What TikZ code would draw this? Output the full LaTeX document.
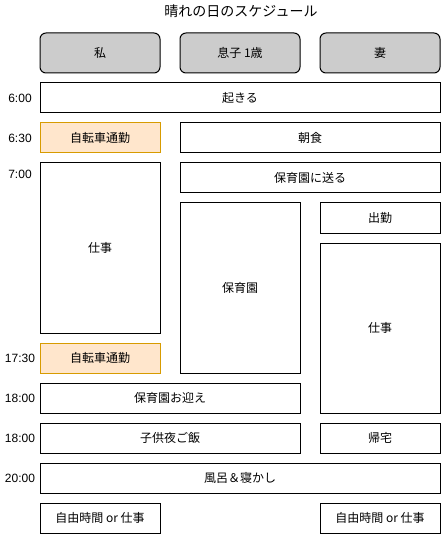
\documentclass[tikz,border=0pt]{standalone}
\usepackage{fontspec}
\setmainfont{Noto Sans CJK JP}
\newfontfamily\latfont{Liberation Sans}
\definecolor{hdrgray}{HTML}{CCCCCC}
\definecolor{orfill}{HTML}{FFE6CC}
\definecolor{orline}{HTML}{D79B00}
\tikzset{
  box/.style={draw=black, line width=1pt, fill=white, inner sep=0pt, font=\fontsize{12}{14}\selectfont},
  hdr/.style={box, fill=hdrgray, rounded corners=6pt, minimum width=120pt, minimum height=40pt},
  bike/.style={box, draw=orline, fill=orfill},
  timelbl/.style={font=\latfont\fontsize{12}{14}\selectfont, inner sep=0pt},
  sz/.style 2 args={minimum width=#1pt, minimum height=#2pt}
}
\begin{document}
\begin{tikzpicture}[x=1pt,y=-1pt]
\useasboundingbox (0,0) rectangle (441,534);
\node[font=\fontsize{14}{16}\selectfont, inner sep=0pt] (title) at (241,11) {晴れの日のスケジュール};
% headers
\node[hdr] (me) at (100,53) {私};
\node[hdr] (son) at (240,53) {息子 1歳};
\node[hdr] (wife) at (380,53) {妻};
% schedule
\node[box, sz={400}{30}] (wake) at (240,98) {起きる};
\node[bike, sz={120}{30}] (bike1) at (100,138) {自転車通勤};
\node[box, sz={260}{30}] (breakfast) at (310,138) {朝食};
\node[box, sz={120}{170}] (work1) at (100,248) {仕事};
\node[box, sz={260}{30}] (drop) at (310,178) {保育園に送る};
\node[box, sz={120}{170}] (nursery) at (240,288) {保育園};
\node[box, sz={120}{30}] (commute) at (380,218) {出勤};
\node[box, sz={120}{170}] (work2) at (380,328) {仕事};
\node[bike, sz={120}{30}] (bike2) at (100,358) {自転車通勤};
\node[box, sz={260}{30}] (pickup) at (170,398) {保育園お迎え};
\node[box, sz={260}{30}] (dinner) at (170,438) {子供夜ご飯};
\node[box, sz={120}{30}] (home) at (380,438) {帰宅};
\node[box, sz={400}{30}] (bath) at (240,478) {風呂＆寝かし};
\node[box, sz={120}{30}] (free1) at (100,518) {自由時間 or 仕事};
\node[box, sz={120}{30}] (free2) at (380,518) {自由時間 or 仕事};
% time labels
\node[timelbl] (t600) at (20,98) {6:00};
\node[timelbl] (t630) at (20,138) {6:30};
\node[timelbl] (t700) at (20,174) {7:00};
\node[timelbl] (t1730) at (20,358) {17:30};
\node[timelbl] (t1800a) at (20,398) {18:00};
\node[timelbl] (t1800b) at (20,438) {18:00};
\node[timelbl] (t2000) at (20,478) {20:00};
\end{tikzpicture}
\end{document}
